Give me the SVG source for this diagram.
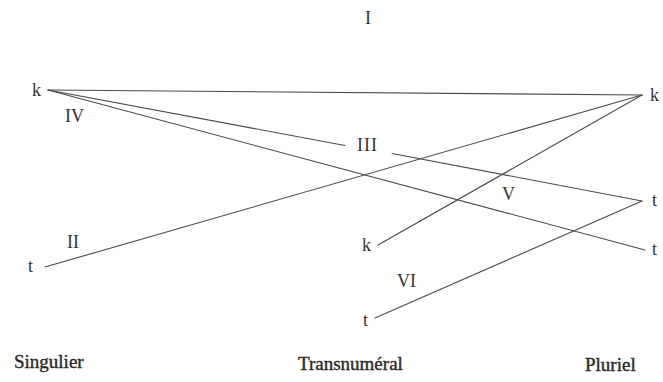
<svg xmlns="http://www.w3.org/2000/svg" width="663" height="382" viewBox="0 0 663 382">
<style>
.ln{stroke:#4a4a4a;stroke-width:1.1;fill:none;stroke-linecap:round}
.t{font-family:"Liberation Serif","Times New Roman",serif;fill:#333;font-size:18px}
.ax{font-family:"Liberation Serif","Times New Roman",serif;fill:#2a2a2a;font-size:19px;stroke:#2a2a2a;stroke-width:0.4}
</style>
<rect width="663" height="382" fill="#fff"/>
<g id="connectors">
<line class="ln" x1="48" y1="90" x2="642" y2="95" stroke-width="1.5"/>
<line class="ln" x1="48" y1="90" x2="345" y2="145.5"/>
<line class="ln" x1="392" y1="153.5" x2="642" y2="201"/>
<line class="ln" x1="48" y1="90" x2="645" y2="250"/>
<line class="ln" x1="642" y1="95" x2="45" y2="267"/>
<line class="ln" x1="642" y1="95" x2="378" y2="245"/>
<line class="ln" x1="642" y1="201" x2="375" y2="318"/>
</g>
<g id="k-left"><text class="t" x="32" y="96">k</text></g>
<g id="k-right"><text class="t" x="650" y="101">k</text></g>
<g id="k-mid"><text class="t" x="362" y="251">k</text></g>
<g id="t-left"><text class="t" x="28" y="272">t</text></g>
<g id="t-right-upper"><text class="t" x="652" y="206">t</text></g>
<g id="t-right-lower"><text class="t" x="652" y="255">t</text></g>
<g id="t-mid"><text class="t" x="363" y="326">t</text></g>
<g id="label-I"><text class="t" x="365" y="24">I</text></g>
<g id="label-II"><text class="t" x="67" y="248">II</text></g>
<g id="label-III"><text class="t" x="357" y="151" letter-spacing="1">III</text></g>
<g id="label-IV"><text class="t" x="65" y="122">IV</text></g>
<g id="label-V"><text class="t" x="502" y="200">V</text></g>
<g id="label-VI"><text class="t" x="397" y="287">VI</text></g>
<g id="axis-singulier"><text class="ax" x="14" y="368">Singulier</text></g>
<g id="axis-transnumeral"><text class="ax" x="298" y="370">Transnuméral</text></g>
<g id="axis-pluriel"><text class="ax" x="585" y="371">Pluriel</text></g>
</svg>
